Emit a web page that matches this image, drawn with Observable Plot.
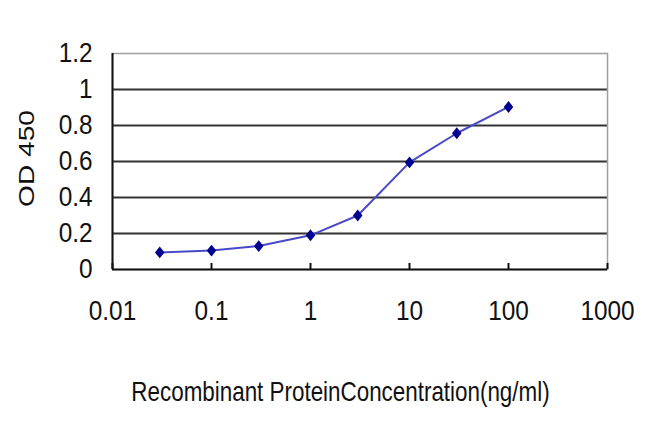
<!DOCTYPE html>
<html>
<head>
<meta charset="utf-8">
<script src="https://cdn.jsdelivr.net/npm/d3@7"></script>
<script src="https://cdn.jsdelivr.net/npm/@observablehq/plot@0.6"></script>
<style>
  html, body { margin: 0; padding: 0; background: #fff; }
</style>
</head>
<body>
<div id="chart"></div>
<script>
const concentrations = [0.03, 0.1, 0.3, 1, 3, 10, 30, 100];
const od450 = [0.095, 0.105, 0.13, 0.19, 0.30, 0.595, 0.757, 0.903];
const xTicks = [0.01, 0.1, 1, 10, 100, 1000];
const yTicks = [0, 0.2, 0.4, 0.6, 0.8, 1, 1.2];
const yGridLines = [0.2, 0.4, 0.6, 0.8, 1];
const xTitle = "Recombinant ProteinConcentration(ng/ml)";
const yTitle = "OD 450";

const data = concentrations.map((c, i) => ({c, od: od450[i]}));

const diamond = {
  draw(ctx, size) {
    const r = Math.sqrt(size) * 0.6;
    const w = r * 0.8;
    ctx.moveTo(0, -r); ctx.lineTo(w, 0); ctx.lineTo(0, r); ctx.lineTo(-w, 0); ctx.closePath();
  }
};

const font = "'Liberation Sans', Arial, sans-serif";

const chart = Plot.plot({
  width: 650,
  height: 433,
  marginLeft: 112,
  marginRight: 43,
  marginTop: 53,
  marginBottom: 164,
  x: {type: "log", domain: [0.01, 1000]},
  y: {domain: [0, 1.2]},
  style: {fontFamily: font, fontSize: "28px", color: "#111", background: "#fff"},
  marks: [
    Plot.gridY(yGridLines, {stroke: "#333", strokeOpacity: 1, strokeWidth: 2.2}),
    Plot.frame({stroke: "#a0a0a0", strokeWidth: 1.5}),
    Plot.ruleY([0], {stroke: "#111", strokeWidth: 2}),
    Plot.ruleX([0.01], {stroke: "#111", strokeWidth: 2}),
    Plot.axisY(yTicks, {tickSize: 0, tickPadding: 20, tickFormat: d => String(d), label: null, fontSize: 28, className: "tl"}),
    Plot.axisX(xTicks, {tickSize: 0, tickPadding: 31, tickFormat: d => String(d), label: null, fontSize: 28}),
    Plot.axisX(xTicks, {tickSize: -6, tickFormat: () => "", label: null, stroke: "#111", strokeWidth: 2}),
    Plot.line(data, {x: "c", y: "od", stroke: "#4848c8", strokeWidth: 2}),
    Plot.dot(data, {x: "c", y: "od", symbol: diamond, r: 5.6, fill: "#000090", stroke: "none"}),
    Plot.text([xTitle], {text: d => d, frameAnchor: "bottom", textAnchor: "middle", dy: 131, dx: -19.5, fontSize: 27, fill: "#111"}),
    Plot.text([yTitle], {text: d => d, frameAnchor: "left", textAnchor: "middle", rotate: -90, dx: -86, dy: -3, fontSize: 22, fill: "#111"})
  ]
});

document.getElementById("chart").appendChild(chart);

// Reference text is drawn tall and narrow: condense horizontally (or stretch the rotated title along its length)
d3.select(chart).selectAll("text").each(function() {
  const t = this.textContent;
  const tr = this.getAttribute("transform");
  if (!tr || !t) return;
  let s = null;
  if (t === xTitle) s = "scale(0.83,1)";
  else if (t === yTitle) s = "scale(1.28,1)";
  else if (xTicks.map(String).includes(t) || yTicks.map(String).includes(t)) s = "scale(0.87,1)";
  if (s) this.setAttribute("transform", tr + " " + s);
});
</script>
</body>
</html>
